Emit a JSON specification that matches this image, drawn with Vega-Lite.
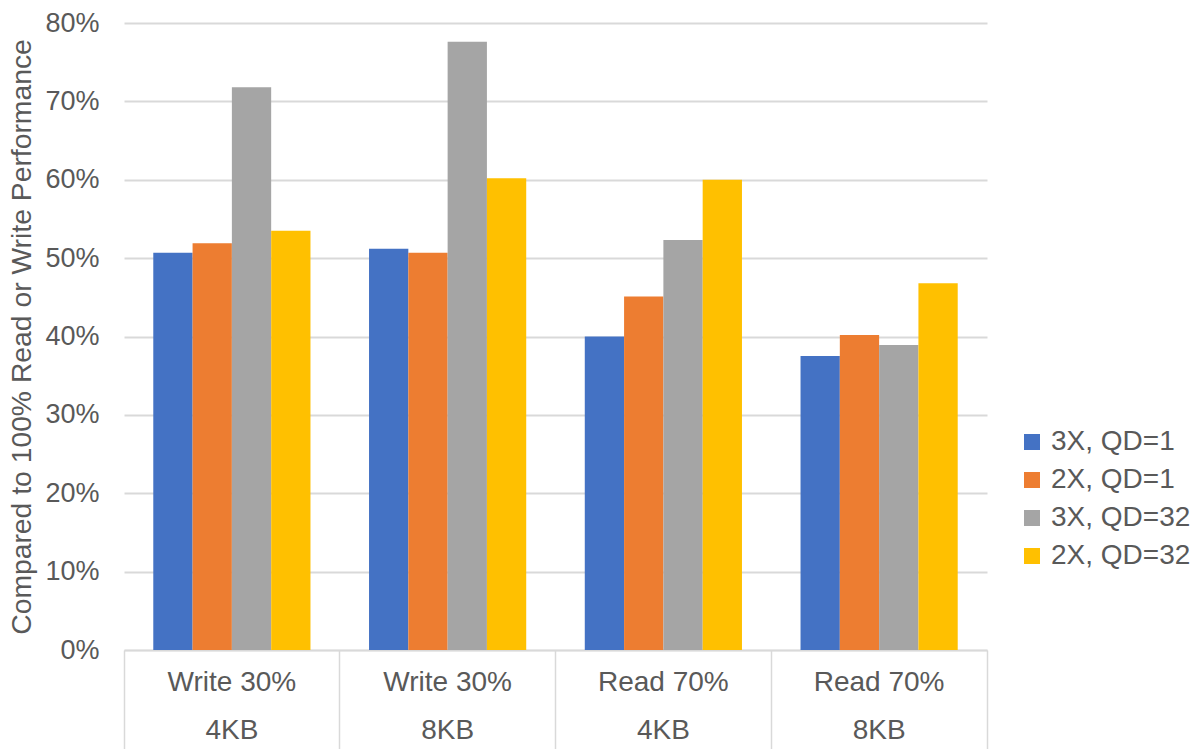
{
  "$schema": "https://vega.github.io/schema/vega-lite/v6.json",
  "autosize": {"type": "none"},
  "width": 863,
  "height": 627,
  "padding": {"left": 124, "top": 23, "right": 205, "bottom": 99},
  "background": "white",
  "config": {
    "view": {"stroke": null},
    "font": "Liberation Sans"
  },
  "data": {
    "values": [
      {"cat": "Write 30%|4KB", "series": "3X, QD=1", "value": 0.507},
      {"cat": "Write 30%|4KB", "series": "2X, QD=1", "value": 0.519},
      {"cat": "Write 30%|4KB", "series": "3X, QD=32", "value": 0.718},
      {"cat": "Write 30%|4KB", "series": "2X, QD=32", "value": 0.535},
      {"cat": "Write 30%|8KB", "series": "3X, QD=1", "value": 0.512},
      {"cat": "Write 30%|8KB", "series": "2X, QD=1", "value": 0.507},
      {"cat": "Write 30%|8KB", "series": "3X, QD=32", "value": 0.776},
      {"cat": "Write 30%|8KB", "series": "2X, QD=32", "value": 0.602},
      {"cat": "Read 70%|4KB", "series": "3X, QD=1", "value": 0.400},
      {"cat": "Read 70%|4KB", "series": "2X, QD=1", "value": 0.451},
      {"cat": "Read 70%|4KB", "series": "3X, QD=32", "value": 0.523},
      {"cat": "Read 70%|4KB", "series": "2X, QD=32", "value": 0.600},
      {"cat": "Read 70%|8KB", "series": "3X, QD=1", "value": 0.375},
      {"cat": "Read 70%|8KB", "series": "2X, QD=1", "value": 0.402},
      {"cat": "Read 70%|8KB", "series": "3X, QD=32", "value": 0.389},
      {"cat": "Read 70%|8KB", "series": "2X, QD=32", "value": 0.468}
    ]
  },
  "mark": {"type": "bar"},
  "encoding": {
    "x": {
      "field": "cat",
      "type": "nominal",
      "sort": null,
      "scale": {"paddingInner": 0, "paddingOuter": 0},
      "axis": {
        "title": null,
        "labelAngle": 0,
        "labelExpr": "split(datum.label, '|')",
        "labelFontSize": 28,
        "labelColor": "#595959",
        "labelLineHeight": 48,
        "labelBaseline": "top",
        "labelPadding": -81,
        "bandPosition": 1,
        "tickExtra": true,
        "tickSize": 99,
        "tickColor": "#d9d9d9",
        "tickWidth": 1.5,
        "domainColor": "#d9d9d9",
        "domainWidth": 1.5,
        "grid": false
      }
    },
    "xOffset": {
      "field": "series",
      "type": "nominal",
      "sort": ["3X, QD=1", "2X, QD=1", "3X, QD=32", "2X, QD=32"],
      "scale": {"paddingInner": 0, "paddingOuter": 0.745}
    },
    "y": {
      "field": "value",
      "type": "quantitative",
      "scale": {"domain": [0, 0.8]},
      "axis": {
        "title": "Compared to 100% Read or Write Performance",
        "titleFontSize": 28.3,
        "titleFontWeight": "normal",
        "titleColor": "#595959",
        "titlePadding": 8,
        "format": ".0%",
        "values": [0, 0.1, 0.2, 0.3, 0.4, 0.5, 0.6, 0.7, 0.8],
        "labelOverlap": false,
        "labelFontSize": 27,
        "labelColor": "#595959",
        "labelPadding": 25,
        "ticks": false,
        "domain": false,
        "gridColor": "#d9d9d9",
        "gridWidth": 2
      }
    },
    "color": {
      "field": "series",
      "type": "nominal",
      "scale": {
        "domain": ["3X, QD=1", "2X, QD=1", "3X, QD=32", "2X, QD=32"],
        "range": ["#4472C4", "#ED7D31", "#A5A5A5", "#FFC000"]
      },
      "legend": {
        "title": null,
        "orient": "none",
        "legendX": 894,
        "legendY": 405,
        "symbolType": "square",
        "symbolSize": 256,
        "symbolStrokeWidth": 0,
        "labelFontSize": 28,
        "labelColor": "#595959",
        "labelOffset": 5,
        "labelLimit": 300,
        "rowPadding": 10
      }
    }
  }
}
